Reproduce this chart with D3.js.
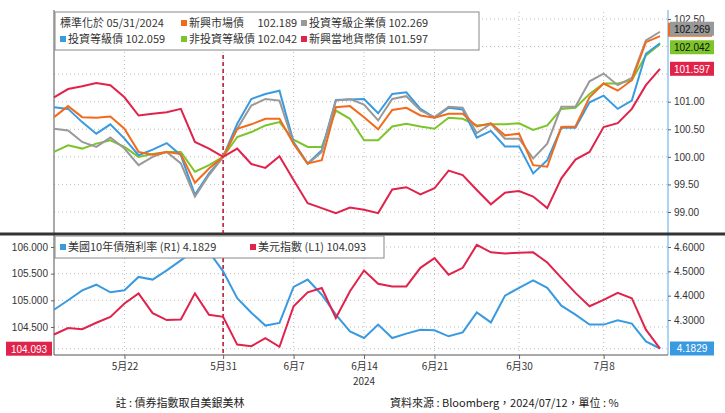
<!DOCTYPE html>
<html><head><meta charset="utf-8">
<script src="https://cdn.jsdelivr.net/npm/d3@7"></script>
<style>body{margin:0;background:#fff;font-family:"Noto Sans CJK TC","Noto Sans",sans-serif}</style>
</head><body><svg id="c" width="725" height="413"></svg>
<script>
// normalised bond indices (05/31/2024 = 100)
const emBond = [100.72,100.92,100.72,100.71,100.73,100.51,100.09,100.04,100.09,100.05,99.53,99.79,100.0,100.51,100.59,100.69,100.69,100.24,99.88,99.94,100.9,100.92,100.72,100.5,100.85,100.89,100.75,100.71,100.78,100.78,100.55,100.61,100.39,100.42,99.85,99.82,100.54,100.55,101.08,101.33,101.2,101.39,102.08,102.189];
const igCorp = [100.51,100.48,100.27,100.18,100.35,100.15,99.85,100.0,100.09,99.88,99.28,99.67,100.0,100.51,100.93,101.05,101.02,100.24,99.87,100.09,101.02,101.05,100.95,100.66,101.05,101.1,100.84,100.72,100.91,100.89,100.43,100.6,100.33,100.33,99.97,100.24,100.91,100.91,101.37,101.51,101.3,101.43,102.11,102.269];
const igBond = [100.9,100.87,100.63,100.42,100.59,100.33,100.03,100.13,100.25,100.03,99.31,99.7,100.0,100.6,101.05,101.14,101.2,100.27,99.88,100.12,101.03,101.04,101.05,100.79,101.14,101.17,100.87,100.71,100.89,100.86,100.35,100.47,100.19,100.19,99.7,99.94,100.53,100.53,100.99,101.11,100.87,101.02,101.87,102.059];
const hyBond = [100.09,100.21,100.15,100.24,100.3,100.18,100.0,100.05,100.09,100.09,99.73,99.85,100.0,100.36,100.45,100.57,100.63,100.31,100.18,100.18,100.84,100.69,100.3,100.3,100.55,100.6,100.55,100.51,100.71,100.69,100.57,100.59,100.59,100.61,100.49,100.57,100.87,100.89,101.14,101.33,101.33,101.39,101.84,102.042];
const emLocal = [101.08,101.23,101.28,101.34,101.3,101.08,100.75,100.78,100.81,100.87,100.27,100.15,100.0,100.15,99.87,99.8,100.01,99.58,99.16,99.07,98.98,99.08,99.04,98.98,99.41,99.45,99.32,99.43,99.75,99.67,99.4,99.14,99.35,99.38,99.28,99.07,99.61,99.95,100.09,100.54,100.61,100.87,101.3,101.597];
const dxy = [104.36,104.48,104.46,104.58,104.69,104.94,105.13,104.76,104.63,104.64,105.13,104.73,104.69,104.17,104.14,104.29,104.13,104.89,105.15,105.23,104.67,105.17,105.56,105.31,105.26,105.26,105.61,105.79,105.48,105.61,106.04,105.9,105.88,105.89,105.9,105.71,105.42,105.14,104.89,105.01,105.14,105.04,104.45,104.093];
const us10y = [4.342,4.381,4.422,4.445,4.414,4.422,4.477,4.466,4.504,4.545,4.589,4.58,4.5,4.39,4.33,4.277,4.288,4.436,4.466,4.404,4.322,4.253,4.226,4.281,4.226,4.244,4.26,4.258,4.233,4.249,4.331,4.29,4.4,4.432,4.463,4.432,4.359,4.322,4.281,4.281,4.299,4.285,4.212,4.1829];
const tickIdx = [5,12,17,22,27,33,39];
const tickLabels = ["5月22","5月31","6月7","6月14","6月21","6月30","7月8"];
const topTicks = [99.0,99.5,100.0,100.5,101.0,101.5,102.0,102.5];
const leftTicks = [104.5,105.0,105.5,106.0];
const rightTicks = [4.3,4.4,4.5,4.6];
const baseIdx = 12;

const C = {em:"#f26b1d", gray:"#999", blue:"#3a9ae0", green:"#7cc42a", red:"#e0234b"};
const svg = d3.select("#c");
const L = 54, R = 668;
const x = d3.scaleLinear().domain([0, emBond.length-1]).range([L, 660]);
const yT = d3.scaleLinear().domain([99, 102.5]).range([212, 19]);
const yL = d3.scaleLinear().domain([104.5, 106]).range([327, 247]);
const yR = d3.scaleLinear().domain([4.3, 4.6]).range([320, 247]);
const grid = "#bbb";

// grids
[[12,233],[234,355]].forEach(([a,b]) => {
  tickIdx.forEach(i => svg.append("line").attr("x1",x(i)).attr("x2",x(i)).attr("y1",a).attr("y2",b)
    .attr("stroke",grid).attr("stroke-dasharray","1,3"));
});
topTicks.forEach(t => svg.append("line").attr("x1",L).attr("x2",R).attr("y1",yT(t)).attr("y2",yT(t))
  .attr("stroke",grid).attr("stroke-dasharray","1,3"));
leftTicks.concat([104.093]).forEach(t => svg.append("line").attr("x1",L).attr("x2",R).attr("y1",yL(t)).attr("y2",yL(t))
  .attr("stroke",grid).attr("stroke-dasharray","1,3"));

// frame lines
svg.append("line").attr("x1",L).attr("x2",L).attr("y1",10).attr("y2",355).attr("stroke","#555");
svg.append("line").attr("x1",R).attr("x2",R).attr("y1",10).attr("y2",355).attr("stroke","#5aa9e6");
svg.append("line").attr("x1",0).attr("x2",725).attr("y1",234).attr("y2",234).attr("stroke","#333").attr("stroke-width",3);
svg.append("line").attr("x1",L).attr("x2",R).attr("y1",355).attr("y2",355).attr("stroke","#555");

// dashed base line
svg.append("line").attr("x1",x(baseIdx)).attr("x2",x(baseIdx)).attr("y1",55).attr("y2",355)
  .attr("stroke","#b5122f").attr("stroke-width",1.5).attr("stroke-dasharray","4,3");

// axes
const ax = svg.append("g").attr("transform",`translate(${R},0)`)
  .call(d3.axisRight(yT).tickValues(topTicks.filter(t=>t!=101.5&&t!=102)).tickFormat(d3.format(".2f")).tickSize(3));
const axL = svg.append("g").attr("transform",`translate(${L},0)`)
  .call(d3.axisLeft(yL).tickValues(leftTicks).tickFormat(d3.format(".3f")).tickSize(3));
const axR = svg.append("g").attr("transform",`translate(${R},0)`)
  .call(d3.axisRight(yR).tickValues(rightTicks).tickFormat(d3.format(".4f")).tickSize(3));
const axB = svg.append("g").attr("transform","translate(0,355)")
  .call(d3.axisBottom(x).tickValues(tickIdx).tickFormat((d,i)=>tickLabels[i]).tickSize(4));
[ax,axL,axR,axB].forEach(g=>{g.select(".domain").remove();
  g.selectAll("text").attr("font-size",10).attr("fill","#333").attr("font-family","Liberation Sans, sans-serif");
  g.selectAll("line").attr("stroke","#666");});
axB.selectAll("text").attr("font-family","Noto Sans CJK TC").attr("dy","0.8em");
svg.append("text").attr("x",x(22)).attr("y",385).attr("text-anchor","middle").attr("font-size",10).attr("fill","#333").text("2024");

// lines
const line = (ys) => d3.line().x((d,i)=>x(i)).y(d=>ys(d));
function draw(data, ys, col) {
  svg.append("path").datum(data).attr("d", line(ys)).attr("fill","none").attr("stroke",col).attr("stroke-width",2);
}
draw(hyBond, yT, C.green);
draw(igBond, yT, C.blue);
draw(igCorp, yT, C.gray);
draw(emBond, yT, C.em);
draw(emLocal, yT, C.red);
draw(us10y, yR, C.blue);
draw(dxy, yL, C.red);

// value tags
function tag(xp, y, txt, col, w, anchorLeft) {
  const g = svg.append("g");
  g.append("rect").attr("x", anchorLeft ? xp - w : xp).attr("y", y-7).attr("width", w).attr("height", 14).attr("fill", col);
  g.append("text").attr("x", anchorLeft ? xp - w/2 : xp + w/2).attr("y", y+4).attr("text-anchor","middle")
    .attr("font-size",10).attr("fill", col===C.gray||col===C.green ? "#111" : "#fff")
    .attr("font-family","Liberation Sans, sans-serif").text(txt);
}
tag(668, yT(102.269)-2, "102.189", C.em, 44);
tag(670, yT(102.269)-3, "102.269", C.gray, 44);
tag(670, yT(102.042)+3, "102.042", C.green, 44);
tag(670, yT(101.597), "101.597", C.red, 44);
tag(670, yR(4.1829), "4.1829", C.blue, 44);
tag(L-2, yL(104.093), "104.093", C.red, 46, true);

// legends
function legend(x0, y0, w, h, rows) {
  svg.append("rect").attr("x",x0).attr("y",y0).attr("width",w).attr("height",h).attr("fill","#fff").attr("stroke","#888");
  rows.forEach(r => {
    if (r.c) svg.append("rect").attr("x",r.x).attr("y",r.y-7).attr("width",6).attr("height",6).attr("fill",r.c);
    svg.append("text").attr("x",r.x+(r.c?8:0)).attr("y",r.y).attr("font-size",11).attr("fill","#333").text(r.t);
  });
}
legend(55, 12, 424, 38, [
  {x:60, y:27, t:"標準化於 05/31/2024"},
  {x:181, y:27, c:C.em, t:"新興市場債　 102.189"},
  {x:301, y:27, c:C.gray, t:"投資等級企業債 102.269"},
  {x:60, y:43, c:C.blue, t:"投資等級債 102.059"},
  {x:181, y:43, c:C.green, t:"非投資等級債 102.042"},
  {x:301, y:43, c:C.red, t:"新興當地貨幣債 101.597"}
]);
legend(55, 236, 329, 22, [
  {x:60, y:251, c:C.blue, t:"美國10年債殖利率 (R1) 4.1829"},
  {x:250, y:251, c:C.red, t:"美元指數 (L1) 104.093"}
]);

// footer
svg.append("text").attr("x",180).attr("y",407).attr("text-anchor","middle").attr("font-size",11).attr("fill","#222").text("註 : 債券指數取自美銀美林");
svg.append("text").attr("x",390).attr("y",407).attr("font-size",11).attr("fill","#222").text("資料來源 : Bloomberg，2024/07/12，單位 : %");
</script></body></html>
